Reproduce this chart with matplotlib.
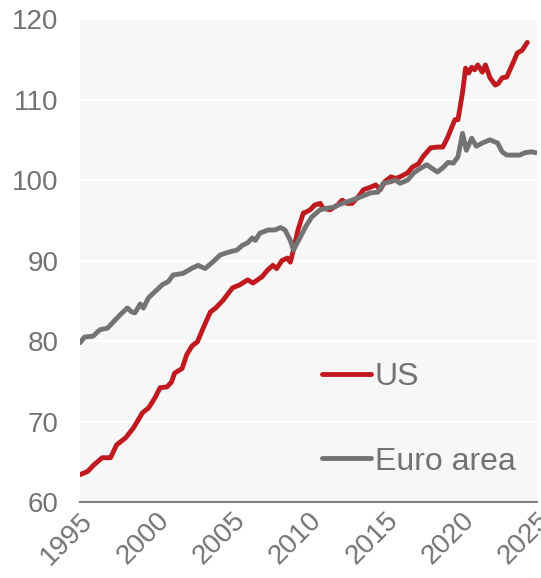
import numpy as np
import matplotlib
matplotlib.use('Agg')
import matplotlib.pyplot as plt

plt.rcParams['font.family'] = ['Liberation Sans', 'DejaVu Sans']

# values (year, index level)
us_year = [1995.0, 1995.5, 1995.9, 1996.45, 1997.0, 1997.4, 1998.0, 1998.5, 1999.1, 1999.5,
           1999.9, 2000.25, 2000.7, 2001.0, 2001.2, 2001.7, 2002.0, 2002.35, 2002.7, 2003.1,
           2003.55, 2003.9, 2004.4, 2005.0, 2005.5, 2006.0, 2006.35, 2006.95, 2007.3, 2007.65,
           2007.9, 2008.25, 2008.6, 2008.8, 2009.0, 2009.3, 2009.65, 2009.8, 2010.1, 2010.4,
           2010.75, 2010.95, 2011.4, 2011.9, 2012.2, 2012.5, 2012.85, 2013.25, 2013.6, 2014.05,
           2014.4, 2014.7, 2015.0, 2015.4, 2015.7, 2016.0, 2016.5, 2016.8, 2017.2, 2017.5,
           2018.0, 2018.45, 2018.8, 2019.1, 2019.4, 2019.6, 2019.8, 2020.1, 2020.3, 2020.5,
           2020.7, 2020.9, 2021.1, 2021.4, 2021.6, 2021.9, 2022.25, 2022.45, 2022.7, 2023.0,
           2023.4, 2023.7, 2024.0, 2024.35]
us_val = [63.4, 63.8, 64.6, 65.5, 65.5, 67.1, 68.0, 69.2, 71.1, 71.7,
          72.9, 74.2, 74.3, 74.9, 76.0, 76.6, 78.3, 79.4, 79.9, 81.7,
          83.6, 84.1, 85.1, 86.6, 87.0, 87.6, 87.2, 88.0, 88.8, 89.4,
          89.0, 90.0, 90.3, 89.8, 91.3, 93.8, 95.9, 96.0, 96.3, 96.9,
          97.1, 96.5, 96.3, 96.9, 97.5, 97.1, 97.1, 97.9, 98.8, 99.1,
          99.4, 98.8, 99.8, 100.4, 100.2, 100.4, 100.9, 101.6, 102.0, 102.9,
          104.0, 104.1, 104.1, 105.2, 106.6, 107.5, 107.5, 110.9, 113.9, 113.3,
          114.0, 113.7, 114.3, 113.4, 114.3, 112.7, 111.8, 112.0, 112.7, 112.8,
          114.5, 115.8, 116.1, 117.1]

ea_year = [1995.0, 1995.3, 1995.85, 1996.3, 1996.8, 1997.2, 1997.6, 1998.1, 1998.4, 1998.6,
           1998.95, 1999.15, 1999.5, 1999.9, 2000.4, 2000.8, 2001.1, 2001.75, 2002.4, 2002.75,
           2003.2, 2003.7, 2004.2, 2004.85, 2005.3, 2005.65, 2006.0, 2006.3, 2006.5, 2006.8,
           2007.35, 2007.8, 2008.15, 2008.45, 2008.8, 2009.0, 2009.45, 2009.8, 2010.2, 2010.75,
           2011.2, 2011.6, 2012.2, 2012.85, 2013.4, 2014.05, 2014.55, 2014.9, 2015.4, 2015.7,
           2016.0, 2016.5, 2016.9, 2017.3, 2017.75, 2018.45, 2018.85, 2019.15, 2019.5, 2019.8,
           2020.1, 2020.35, 2020.7, 2021.0, 2021.4, 2021.9, 2022.4, 2022.7, 2023.0, 2023.4,
           2023.85, 2024.2, 2024.65, 2024.9]
ea_val = [79.8, 80.5, 80.6, 81.4, 81.6, 82.4, 83.2, 84.1, 83.6, 83.5,
          84.6, 84.1, 85.4, 86.1, 87.0, 87.4, 88.2, 88.4, 89.1, 89.4,
          89.0, 89.8, 90.7, 91.1, 91.3, 91.9, 92.2, 92.8, 92.5, 93.4,
          93.8, 93.8, 94.1, 93.8, 92.5, 91.3, 92.9, 94.2, 95.4, 96.3,
          96.5, 96.6, 97.1, 97.5, 97.9, 98.4, 98.5, 99.6, 99.8, 100.0,
          99.6, 100.0, 100.9, 101.4, 101.9, 101.0, 101.6, 102.2, 102.1, 102.9,
          105.8, 103.7, 105.2, 104.2, 104.6, 105.0, 104.6, 103.5, 103.1, 103.1,
          103.1, 103.4, 103.5, 103.4]

years = [1995, 2000, 2005, 2010, 2015, 2020, 2025]
yticks = [60, 70, 80, 90, 100, 110, 120]

red = '#c0191f'
grey = '#737373'
txt = '#737373'

fig = plt.figure(figsize=(5.41, 5.78), dpi=100)
ax = fig.add_axes([0.148, 0.1315, 0.845, 0.8355])
ax.set_facecolor('#f7f7f7')

ax.plot(us_year, us_val, color=red, lw=3.5, label='US', solid_capstyle='round', zorder=3)
ax.plot(ea_year, ea_val, color=grey, lw=3.5, label='Euro area', solid_capstyle='round', zorder=3)

ax.set_xlim(1995, 2025)
ax.set_ylim(60, 120)
ax.set_yticks(yticks)
ax.set_xticks(years)
ax.grid(axis='y', color='white', lw=1.5)
ax.set_axisbelow(True)

for s in ['top', 'right', 'left']:
    ax.spines[s].set_visible(False)
ax.spines['bottom'].set_color('#808080')
ax.spines['bottom'].set_linewidth(1.5)

ax.tick_params(axis='y', length=0, pad=15.5, labelsize=20, labelcolor=txt)
ax.tick_params(axis='x', length=0, pad=4, labelsize=20, labelcolor=txt)
plt.setp(ax.get_xticklabels(), rotation=45, ha='right', va='top', rotation_mode='anchor')

ax.legend(loc='center left', bbox_to_anchor=(0.494, 0.171), frameon=False,
          fontsize=23, labelcolor=txt, handlelength=1.55, handletextpad=0.1,
          labelspacing=1.7, borderpad=0)

plt.savefig('out.png', dpi=100)
